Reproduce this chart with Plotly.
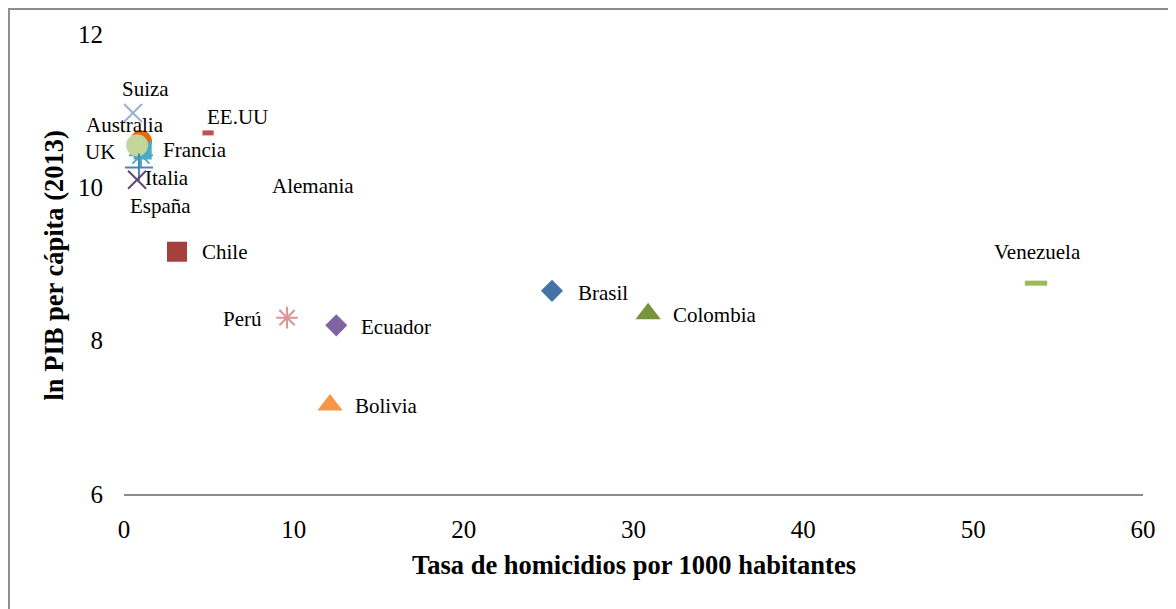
import plotly.graph_objects as go

# ---- data ----
countries = ["Suiza", "Australia", "UK", "España", "Francia", "Alemania", "Italia", "EE.UU",
             "Chile", "Perú", "Ecuador", "Bolivia", "Brasil", "Colombia", "Venezuela"]
homicide_rate = [0.53, 1.0, 0.77, 1.0, 1.1, 0.88, 0.77, 4.95,
                 3.12, 9.6, 12.5, 12.13, 25.2, 30.86, 53.7]
ln_gdp_pc = [10.97, 10.60, 10.55, 10.42, 10.48, 10.26, 10.10, 10.71,
             9.16, 8.30, 8.20, 7.16, 8.65, 8.35, 8.75]
x_ticks = [0, 10, 20, 30, 40, 50, 60]
y_ticks = [6, 8, 10, 12]

# ---- styles (marker symbol, colour, size, line width) ----
styles = {
    "Suiza":     dict(symbol="x-thin-open", color="#95b3d7", size=18, lw=2),
    "Australia": dict(symbol="circle", color="#e46c0a", size=22, lw=0),
    "UK":        dict(symbol="circle", color="#c3d69b", size=22, lw=0),
    "España":    dict(symbol="asterisk-open", color="#4bacc6", size=20, lw=2),
    "Francia":   dict(symbol="square", color="#4bacc6", size=18, lw=0),
    "Alemania":  dict(symbol="cross-thin-open", color="#4f81bd", size=20, lw=2),
    "Italia":    dict(symbol="x-thin-open", color="#5f497a", size=18, lw=2),
    "EE.UU":     dict(symbol="line-ew-open", color="#c0504d", size=8, lw=5),
    "Chile":     dict(symbol="square", color="#a5403e", size=20, lw=0),
    "Perú":      dict(symbol="asterisk-open", color="#d99694", size=18, lw=2),
    "Ecuador":   dict(symbol="diamond", color="#8064a2", size=17, lw=0),
    "Bolivia":   dict(symbol="triangle-up", color="#f79646", size=22, lw=0),
    "Brasil":    dict(symbol="diamond", color="#4573a7", size=17, lw=0),
    "Colombia":  dict(symbol="triangle-up", color="#77933c", size=22, lw=0),
    "Venezuela": dict(symbol="line-ew-open", color="#9bbb59", size=16, lw=5),
}
# label offsets in pixels (dx right, dy up)
label_offsets = {
    "Suiza": (12, 24), "Australia": (-16, 16), "UK": (-37, -7), "España": (20, -51),
    "Francia": (52, 1), "Alemania": (174, -19), "Italia": (30, 2), "EE.UU": (29, 16),
    "Chile": (48, 0), "Perú": (-45, -1), "Ecuador": (60, -2), "Bolivia": (56, -1),
    "Brasil": (51, -2), "Colombia": (67, -1), "Venezuela": (1, 31),
}

FONT = "Liberation Serif"

fig = go.Figure()
draw_order = ["Australia", "España", "Francia", "UK", "Alemania", "Italia", "Suiza", "EE.UU",
              "Chile", "Perú", "Ecuador", "Bolivia", "Brasil", "Colombia", "Venezuela"]
for name in draw_order:
    i = countries.index(name)
    st = styles[name]
    open_sym = st["symbol"].endswith("open")
    fig.add_trace(go.Scatter(
        x=[homicide_rate[i]], y=[ln_gdp_pc[i]], mode="markers", name=name,
        marker=dict(symbol=st["symbol"], size=st["size"], color=st["color"],
                    line=dict(color=st["color"], width=st["lw"] if open_sym else 0)),
        hoverinfo="name+x+y", showlegend=False))

annotations = []
for i, name in enumerate(countries):
    dx, dy = label_offsets[name]
    annotations.append(dict(x=homicide_rate[i], y=ln_gdp_pc[i], xref="x", yref="y",
                            text=name, showarrow=False, xshift=dx, yshift=dy,
                            font=dict(family=FONT, size=21, color="black")))

annotations.append(dict(x=0.5, y=-0.154, xref="paper", yref="paper", yanchor="middle",
                        text="<b>Tasa de homicidios por 1000 habitantes</b>", showarrow=False,
                        font=dict(family=FONT, size=26.5, color="black")))
annotations.append(dict(x=-0.0690, y=0.496, xref="paper", yref="paper", xanchor="center",
                        yanchor="middle", textangle=-90,
                        text="<b>ln PIB per cápita (2013)</b>", showarrow=False,
                        font=dict(family=FONT, size=26.5, color="black")))

fig.update_layout(
    width=1168, height=601,
    margin=dict(l=116, r=33, t=26, b=115),
    paper_bgcolor="white", plot_bgcolor="white",
    annotations=annotations,
    xaxis=dict(range=[0, 60], tickvals=x_ticks, showgrid=False, zeroline=False,
               showline=True, linecolor="#8c8c8c", linewidth=2, ticks="",
               ticklabelstandoff=12,
               tickfont=dict(family=FONT, size=25, color="black")),
    yaxis=dict(range=[6, 12], tickvals=y_ticks, showgrid=False, zeroline=False,
               showline=False, ticks="", ticklabelstandoff=20,
               tickfont=dict(family=FONT, size=25, color="black")),
    shapes=[dict(type="rect", xref="paper", yref="paper",
                 x0=-0.1129, x1=1.3, y0=-0.6, y1=1.0543,
                 line=dict(color="#8c8c8c", width=2), fillcolor="rgba(0,0,0,0)")],
)

fig.write_html("out.html")
